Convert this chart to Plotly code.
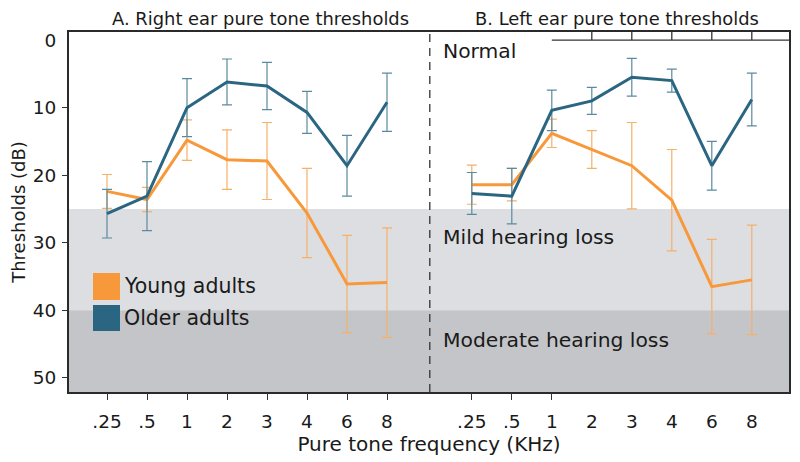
import plotly.graph_objects as go

freq_labels = [".25", ".5", "1", "2", "3", "4", "6", "8"]

# Panel A: right ear
right_young = [22.4, 23.6, 14.8, 17.7, 17.9, 25.6, 36.1, 35.9]
right_young_err = [2.5, 1.8, 3.0, 4.4, 5.7, 6.6, 7.2, 8.1]
right_older = [25.7, 23.1, 10.0, 6.2, 6.8, 10.7, 18.6, 9.2]
right_older_err = [3.6, 5.1, 4.3, 3.4, 3.5, 3.1, 4.5, 4.3]

# Panel B: left ear
left_young = [21.4, 21.4, 13.8, 16.2, 18.6, 23.7, 36.5, 35.5]
left_young_err = [2.9, 2.4, 2.1, 2.8, 6.4, 7.5, 7.0, 8.1]
left_older = [22.7, 23.1, 10.4, 9.0, 5.5, 6.0, 18.6, 8.8]
left_older_err = [3.1, 4.1, 3.0, 2.0, 2.8, 1.7, 3.6, 3.9]

y_ticks = [0, 10, 20, 30, 40, 50]

ORANGE = "#f7993a"
ORANGE_ERR = "#f5b06a"
BLUE = "#2a6681"
BLUE_ERR = "#5a8aa0"
TXT = "#1a1a1a"
FONT = "DejaVu Sans"

n = len(freq_labels)
xa = list(range(n))
offset = 9.12
xb = [i + offset for i in range(n)]

fig = go.Figure()

def add(x, y, err, color, ecolor):
    fig.add_trace(go.Scatter(
        x=x, y=y, mode="lines",
        line=dict(color=color, width=3),
        error_y=dict(type="data", array=err, visible=True, color=ecolor,
                     thickness=1.2, width=5),
        showlegend=False, hoverinfo="skip"))

add(xa, right_young, right_young_err, ORANGE, ORANGE_ERR)
add(xa, right_older, right_older_err, BLUE, BLUE_ERR)
add(xb, left_young, left_young_err, ORANGE, ORANGE_ERR)
add(xb, left_older, left_older_err, BLUE, BLUE_ERR)

# dummy trace for overlay axes (tick marks only)
fig.add_trace(go.Scatter(x=[], y=[], xaxis="x2", yaxis="y2",
                         showlegend=False, hoverinfo="skip"))

xr = [-0.95, 17.05]
yr = [52.1, -1.2]

# the page body adds an 8px offset; size/margins compensate for it
fig.update_layout(
    width=792, height=454,
    margin=dict(l=61, r=11, t=24, b=70),
    paper_bgcolor="white", plot_bgcolor="white",
    font=dict(family=FONT, color=TXT, size=18),
    xaxis=dict(range=xr, tickvals=xa + xb, ticktext=freq_labels + freq_labels,
               ticks="", showgrid=False, zeroline=False, automargin=False,
               showline=True, linecolor="#2a2a2a", linewidth=2, mirror=True,
               tickfont=dict(size=18.5), ticklabelstandoff=12,
               title=dict(text="Pure tone frequency (KHz)", font=dict(size=20),
                          standoff=6)),
    yaxis=dict(range=yr, tickvals=y_ticks, ticks="", showgrid=False,
               zeroline=False, showline=True, linecolor="#2a2a2a",
               linewidth=2, mirror=True, tickfont=dict(size=18.5),
               ticklabelstandoff=7, automargin=False,
               title=dict(text="Thresholds (dB)", font=dict(size=18),
                          standoff=6)),
    xaxis2=dict(range=xr, overlaying="x", anchor="y2",
                tickvals=xa + xb[:3], ticks="outside", ticklen=7,
                tickcolor="#333", tickwidth=1.3, showticklabels=False,
                showgrid=False, zeroline=False, showline=False,
                automargin=False),
    yaxis2=dict(range=yr, overlaying="y", anchor="x2",
                tickvals=y_ticks[1:], ticks="outside", ticklen=6,
                tickcolor="#333", tickwidth=1.3, showticklabels=False,
                showgrid=False, zeroline=False, showline=False,
                automargin=False),
)

# hearing-loss bands
fig.add_shape(type="rect", xref="paper", yref="y", x0=0, x1=1, y0=25, y1=40,
              fillcolor="#dcdee1", line_width=0, layer="below")
fig.add_shape(type="rect", xref="paper", yref="y", x0=0, x1=1, y0=40, y1=yr[0],
              fillcolor="#c4c5c8", line_width=0, layer="below")

# dashed separator
fig.add_shape(type="line", xref="x", yref="paper", x0=8.07, x1=8.07, y0=0, y1=1,
              line=dict(color="#333", width=1.3, dash="8px,6px"))

# partial top axis in panel B
fig.add_shape(type="line", xref="x", yref="y", x0=xb[2], x1=xr[1], y0=0, y1=0,
              line=dict(color="#333", width=1.3))
for xv in xb[3:]:
    fig.add_shape(type="line", xref="x", yref="y", x0=xv, x1=xv, y0=0, y1=yr[1],
                  line=dict(color="#333", width=1.3))

# panel titles
for title, xs, dx in [("A. Right ear pure tone thresholds", xa, 0.33),
                      ("B. Left ear pure tone thresholds", xb, 0.13)]:
    fig.add_annotation(x=(xs[0] + xs[-1]) / 2 + dx, y=1.0, xref="x",
                       yref="paper", yanchor="bottom", yshift=2, borderpad=0,
                       showarrow=False, text=title, font=dict(size=17.9))

# band labels
for txt, yv in [("Normal", 1.6), ("Mild hearing loss", 29.1),
                ("Moderate hearing loss", 44.4)]:
    fig.add_annotation(x=0.517, y=yv, xref="paper", yref="y", xanchor="left",
                       yanchor="middle", showarrow=False, text=txt,
                       font=dict(size=20.3))

# legend
for label, color, y0, y1 in [("Young adults", ORANGE, 0.3306, 0.2556),
                             ("Older adults", BLUE, 0.2417, 0.1694)]:
    fig.add_shape(type="rect", xref="paper", yref="paper", x0=0.0333, x1=0.0708,
                  y0=y0, y1=y1, fillcolor=color, line_width=0)
    fig.add_annotation(x=0.074, y=(y0 + y1) / 2, xref="paper", yref="paper",
                       xanchor="left", yanchor="middle", showarrow=False,
                       text=label, font=dict(size=20.5))

fig.write_html("out.html")
